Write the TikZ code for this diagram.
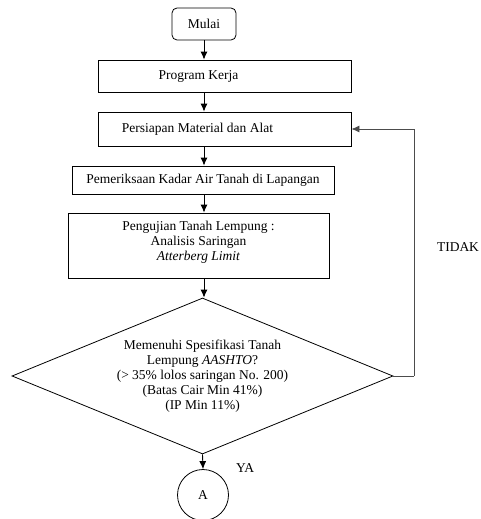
\documentclass[tikz,border=0pt]{standalone}
\usepackage{fontspec}
\setmainfont{Liberation Serif}
\usetikzlibrary{shapes.geometric,arrows.meta}
\begin{document}
\begin{tikzpicture}[x=1pt,y=-1pt,
  font=\fontsize{13.5}{15}\selectfont,
  box/.style={draw, line width=0.8pt, inner sep=0pt, align=center},
  txt/.style={inner sep=0pt, align=center},
  arr/.style={-{Latex[length=8pt,width=7pt]}, line width=0.9pt},
  fb/.style={line width=0.8pt, draw=black!70}]
\useasboundingbox (0,0) rectangle (481,519);

\node[box, rounded corners=5pt, minimum width=64pt, minimum height=32pt] (mulai) at (204,24) {Mulai};
\node[box, minimum width=253pt, minimum height=32pt] (prog) at (224.5,76) {};
\node[txt] (progt) at (198.5,76) {Program Kerja};
\node[box, minimum width=253pt, minimum height=34pt] (pers) at (224.5,129) {};
\node[txt] (perst) at (197.5,129) {Persiapan Material dan Alat};
\node[box, minimum width=262pt, minimum height=28pt] (peme) at (203,180) {Pemeriksaan Kadar Air Tanah di Lapangan};
\node[box, minimum width=261pt, minimum height=65pt] (peng) at (198.5,245.5) {};
\node[txt] (pengt) at (198.5,242) {Pengujian Tanah Lempung :\\ Analisis Saringan\\ \textit{Atterberg Limit}};
\node[box, diamond, aspect=2.44, minimum width=381pt, minimum height=156pt] (dia) at (202.5,376)
  {Memenuhi Spesifikasi Tanah\\ Lempung \textit{AASHTO}?\\ (> 35\% lolos saringan No. 200)\\ (Batas Cair Min 41\%)\\ (IP Min 11\%)};
\node[box, circle, minimum size=51pt] (a) at (203,495) {A};

\node (tidak) at (458,247) {TIDAK};
\node (ya) at (245,468) {YA};

\coordinate (fbx) at (414,376);

\draw[arr] (mulai.south) -- (mulai.south |- prog.north);
\draw[arr] (mulai.south |- prog.south) -- (mulai.south |- pers.north);
\draw[arr] (mulai.south |- pers.south) -- (mulai.south |- peme.north);
\draw[arr] (mulai.south |- peme.south) -- (mulai.south |- peng.north);
\draw[arr] (mulai.south |- peng.south) -- (mulai.south |- dia.north);
\draw[arr] (dia.south) -- (a.north);
\draw[fb] (dia.east) -- (fbx);
\draw[fb, -{Latex[length=8pt,width=7pt]}] (fbx) |- (pers.east);
\end{tikzpicture}
\end{document}
